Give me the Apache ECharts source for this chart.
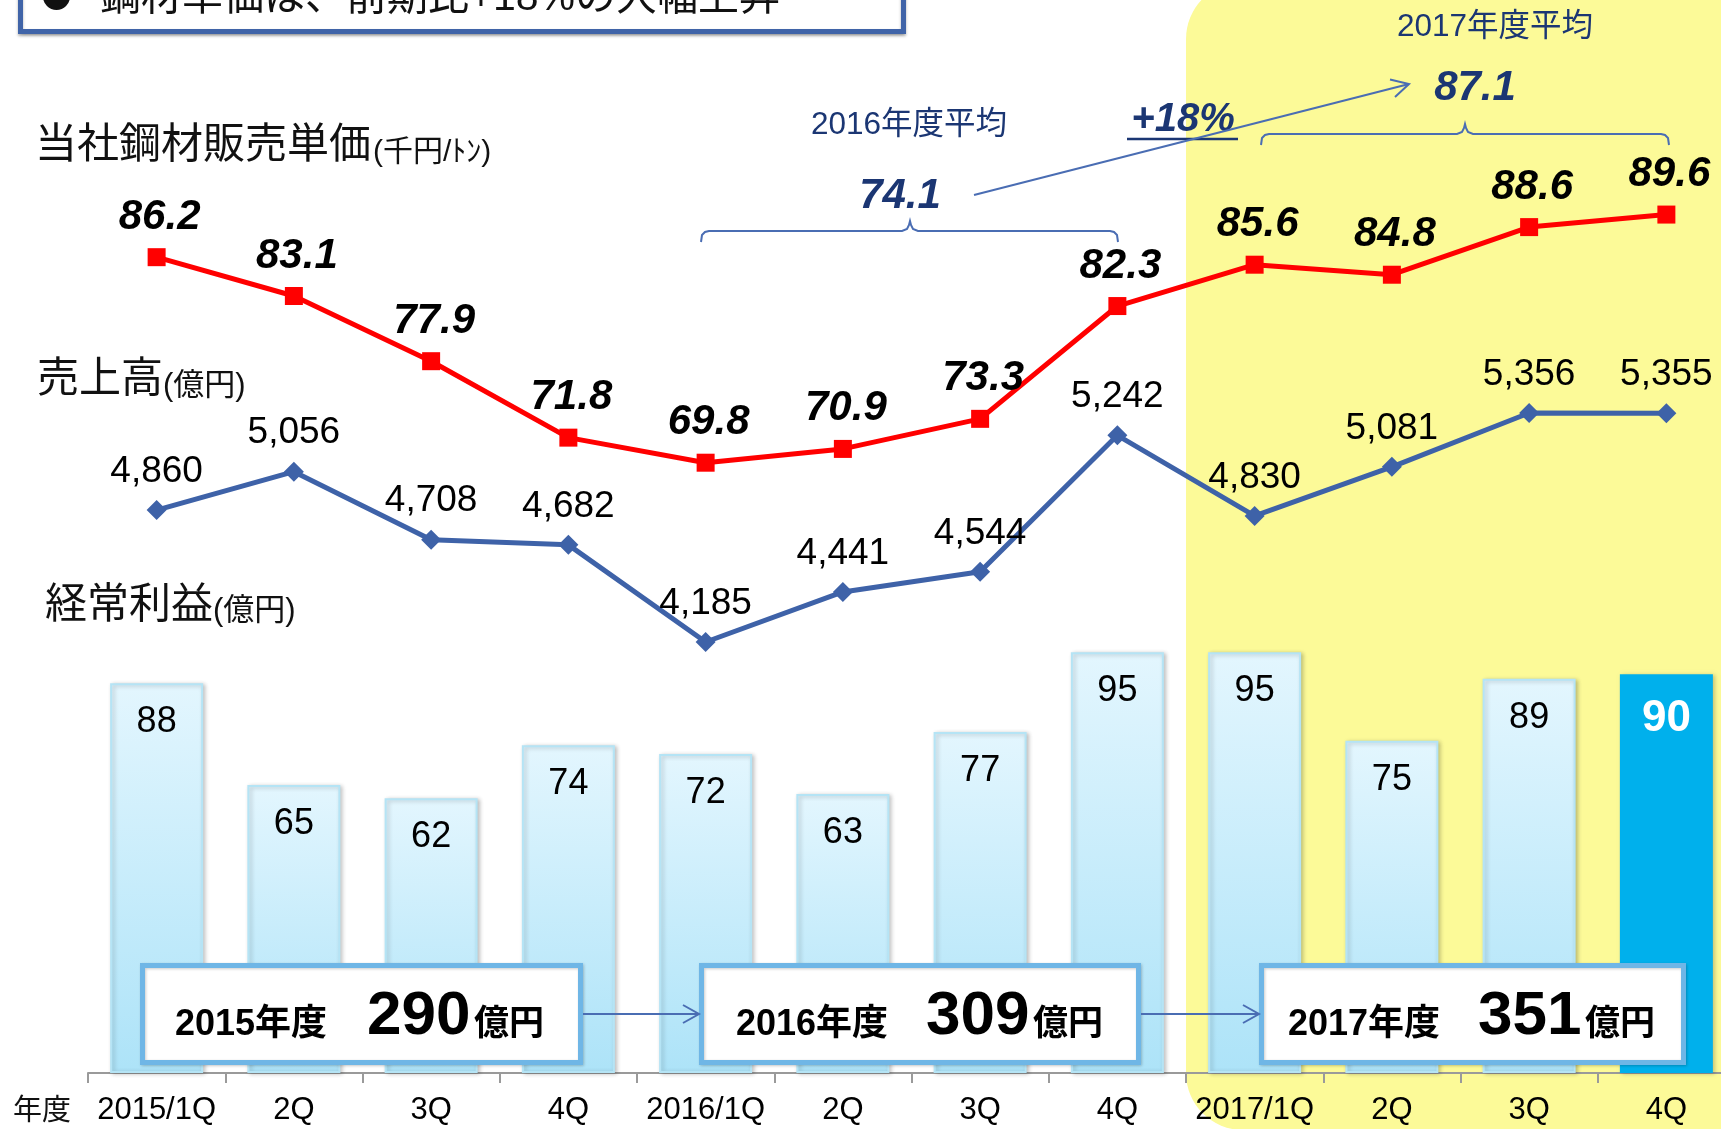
<!DOCTYPE html>
<html>
<head>
<meta charset="utf-8">
<title>鋼材単価・売上高・経常利益</title>
<script src="https://cdn.jsdelivr.net/npm/echarts@6/dist/echarts.min.js"></script>
<style>
html, body { margin: 0; padding: 0; background: #fff; }
#main { width: 1721px; height: 1129px; }
</style>
</head>
<body>
<div id="main"></div>
<script>
// データ
var categories = ['2015/1Q', '2Q', '3Q', '4Q', '2016/1Q', '2Q', '3Q', '4Q', '2017/1Q', '2Q', '3Q', '4Q'];
var priceData = [86.2, 83.1, 77.9, 71.8, 69.8, 70.9, 73.3, 82.3, 85.6, 84.8, 88.6, 89.6];
var salesData = [4860, 5056, 4708, 4682, 4185, 4441, 4544, 5242, 4830, 5081, 5356, 5355];
var profitData = [88, 65, 62, 74, 72, 63, 77, 95, 95, 75, 89, 90];
var yearNames = ['2015年度', '2016年度', '2017年度'];
var yearProfit = [290, 309, 351];
var avgNames = ['2016年度平均', '2017年度平均'];
var avgPrice = [74.1, 87.1];
var growthLabel = '+18%';

var FONT = '"Liberation Sans", Arial, "Noto Sans CJK JP", sans-serif';
var NAVY = '#1b3673';
var LINE_BLUE = '#4a6db3';

var myChart = echarts.init(document.getElementById('main'));

function comma(v) {
	return String(v).replace(/\B(?=(\d{3})+(?!\d))/g, ',');
}

// テキスト要素
function txt(x, y, s, size, o) {
	o = o || {};
	return {
		type: 'text', z: 100, silent: true,
		style: {
			x: x, y: y, text: s,
			fill: o.color || '#111',
			fontSize: size,
			fontFamily: FONT,
			fontWeight: o.weight || 'normal',
			fontStyle: o.italic ? 'italic' : 'normal',
			align: o.align || 'left', textAlign: o.align || 'left',
			verticalAlign: 'middle', textVerticalAlign: 'middle'
		}
	};
}

function line(points, color, width) {
	return {
		type: 'polyline', z: 100, silent: true,
		shape: { points: points },
		style: { stroke: color, lineWidth: width, fill: null }
	};
}

// 中括弧 (左端x, 右端x, 中央x, 横線y)
function brace(x0, x1, xc, y) {
	return line([
		[x0, y + 11], [x0 + 1, y + 4], [x0 + 4, y + 1], [x0 + 8, y],
		[xc - 8, y], [xc - 3, y - 2], [xc - 1, y - 6], [xc, y - 10],
		[xc + 1, y - 6], [xc + 3, y - 2], [xc + 8, y],
		[x1 - 8, y], [x1 - 4, y + 1], [x1 - 1, y + 4], [x1, y + 11]
	], LINE_BLUE, 2);
}

var graphics = [
	// 2017年度 背景
	{ type: 'rect', z: -10, silent: true,
	  shape: { x: 1186, y: -18, width: 600, height: 1148, r: 57 },
	  style: { fill: '#fcfa98' } },
	// タイトル枠
	{ type: 'rect', z: 100, silent: true,
	  shape: { x: 20.5, y: -60, width: 883, height: 91.5 },
	  style: { fill: '#fff', stroke: '#4064a8', lineWidth: 5,
	           shadowBlur: 3, shadowOffsetY: 2, shadowColor: 'rgba(0,0,0,0.3)' } },
	{ type: 'circle', z: 101, silent: true, shape: { cx: 56.5, cy: -3.5, r: 13.5 }, style: { fill: '#111' } },
	txt(100, -1, '鋼材単価は、前期比+18%の大幅上昇', 41),

	// 系列名
	txt(35, 146, '当社鋼材販売単価', 42),
	txt(373, 153, '(千円/ﾄﾝ)', 30),
	txt(37, 380, '売上高', 42),
	txt(163, 386, '(億円)', 31),
	txt(45, 606, '経常利益', 42),
	txt(213, 611, '(億円)', 31),
	txt(13, 1112, '年度', 29),

	// 年度平均
	txt(909, 125, avgNames[0], 31.5, { color: NAVY, align: 'center' }),
	txt(900, 196, avgPrice[0].toFixed(1), 42, { color: NAVY, align: 'center', weight: 'bold', italic: true }),
	txt(1495, 27, avgNames[1], 31.5, { color: NAVY, align: 'center' }),
	txt(1475, 88, avgPrice[1].toFixed(1), 42, { color: NAVY, align: 'center', weight: 'bold', italic: true }),
	txt(1183, 120, growthLabel, 40, { color: NAVY, align: 'center', weight: 'bold', italic: true }),
	line([[1127, 139], [1238, 139]], NAVY, 2.5),
	brace(701, 1118, 910, 231),
	brace(1261, 1669, 1465, 134),
	line([[974, 195], [1409, 84]], LINE_BLUE, 2),
	line([[1390, 79.5], [1409, 84], [1395, 97]], LINE_BLUE, 2),

	// 年度間の矢印
	line([[583, 1014], [699, 1014]], LINE_BLUE, 2),
	line([[683, 1005], [699, 1014], [683, 1023]], LINE_BLUE, 2),
	line([[1141, 1014], [1259, 1014]], LINE_BLUE, 2),
	line([[1243, 1005], [1259, 1014], [1243, 1023]], LINE_BLUE, 2)
];

// 年度合計の枠
var boxes = [
	{ x: 142.5, w: 438, nameX: 175, amtX: 367, unitX: 474 },
	{ x: 701.5, w: 437, nameX: 736, amtX: 926, unitX: 1033 },
	{ x: 1261.5, w: 422, nameX: 1288, amtX: 1478, unitX: 1585 }
];
boxes.forEach(function(b, i) {
	graphics.push({ type: 'rect', z: 90, silent: true,
		shape: { x: b.x, y: 965.5, width: b.w, height: 97 },
		style: { fill: '#fff', stroke: '#6fb6e6', lineWidth: 5,
		         shadowBlur: 3, shadowOffsetX: 1, shadowOffsetY: 1, shadowColor: 'rgba(0,0,0,0.2)' } });
	graphics.push(txt(b.nameX, 1025, yearNames[i], 36, { weight: 'bold', color: '#000' }));
	graphics.push(txt(b.amtX, 1017, String(yearProfit[i]), 62, { weight: 'bold', color: '#000' }));
	graphics.push(txt(b.unitX, 1025, '億円', 35, { weight: 'bold', color: '#000' }));
});

var barColor = new echarts.graphic.LinearGradient(0, 0, 0, 1, [
	{ offset: 0, color: '#e3f6fe' },
	{ offset: 1, color: '#ade3f8' }
]);

var option = {
	animation: false,
	backgroundColor: '#fff',
	textStyle: { fontFamily: FONT },
	// 4Q の枠は右端で切れているので、グリッドを画面外まで伸ばす
	grid: { left: 88, top: 187, width: 1647, bottom: 56, containLabel: false, outerBoundsMode: 'none' },
	xAxis: {
		type: 'category',
		data: categories,
		boundaryGap: true,
		axisLine: { lineStyle: { color: '#9a9a9a', width: 2 } },
		axisTick: { show: true, length: 10, lineStyle: { color: '#9a9a9a', width: 2 } },
		axisLabel: { interval: 0, color: '#000', fontSize: 31, margin: 22, fontFamily: FONT },
		splitLine: { show: false }
	},
	yAxis: [
		{ type: 'value', show: false, min: 0, max: 200, splitLine: { show: false } },
		{ type: 'value', show: false, min: 1981, max: 6512, splitLine: { show: false } },
		{ type: 'value', show: false, min: 21.1, max: 91.8, splitLine: { show: false } }
	],
	series: [
		{
			name: '経常利益',
			type: 'bar',
			yAxisIndex: 0,
			barWidth: 93,
			data: profitData.map(function(v, i) {
				if (i == profitData.length - 1) {
					return { value: v,
						itemStyle: { color: '#00b0ec', borderWidth: 0 },
						label: { color: '#fff', fontWeight: 'bold', fontSize: 44, distance: 23 } };
				}
				return v;
			}),
			itemStyle: {
				color: barColor,
				borderColor: '#b5e4f5',
				borderWidth: 2,
				shadowColor: 'rgba(0,0,0,0.22)',
				shadowBlur: 4,
				shadowOffsetX: 2,
				shadowOffsetY: 1
			},
			label: { show: true, position: 'insideTop', distance: 21, fontSize: 36, color: '#000' }
		},
		{
			name: '売上高',
			type: 'line',
			yAxisIndex: 1,
			data: salesData,
			symbol: 'diamond',
			symbolSize: 20,
			clip: false,
			lineStyle: { color: '#3e62a8', width: 5 },
			itemStyle: { color: '#3e62a8' },
			label: {
				show: true, position: 'top', distance: 10, fontSize: 37, color: '#000',
				formatter: function(p) { return comma(p.value); }
			}
		},
		{
			name: '当社鋼材販売単価',
			type: 'line',
			yAxisIndex: 2,
			data: priceData,
			symbol: 'rect',
			symbolSize: 18,
			clip: false,
			lineStyle: { color: '#ff0000', width: 5 },
			itemStyle: { color: '#ff0000' },
			label: {
				show: true, position: 'top', distance: 10, fontSize: 42,
				fontWeight: 'bold', fontStyle: 'italic', color: '#000', offset: [3, 0],
				formatter: function(p) { return p.value.toFixed(1); }
			}
		}
	],
	graphic: graphics
};

myChart.setOption(option);
window.onresize = myChart.resize;
</script>
</body>
</html>
